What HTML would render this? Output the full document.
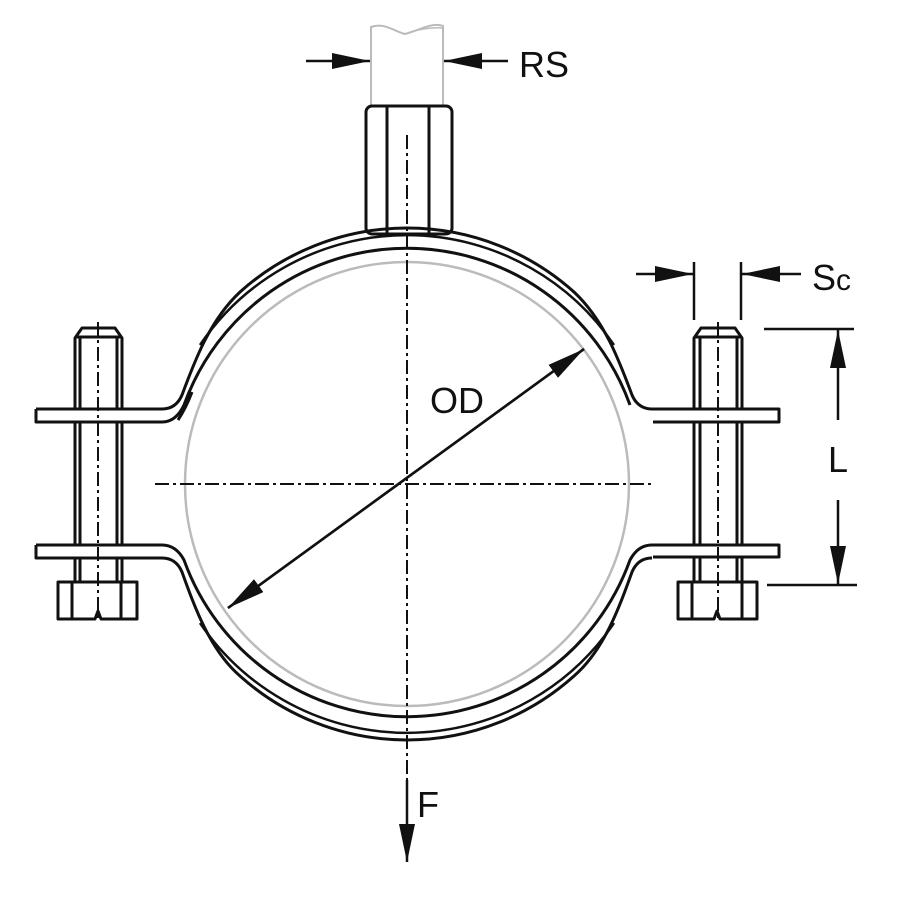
<!DOCTYPE html>
<html><head><style>body{margin:0;background:#fff}svg{display:block}</style></head><body>
<svg width="900" height="900" viewBox="0 0 900 900" xmlns="http://www.w3.org/2000/svg" font-family="'Liberation Sans',sans-serif">
<defs>
<marker id="ah" markerWidth="10" markerHeight="8" refX="10" refY="4" orient="auto" markerUnits="userSpaceOnUse" viewBox="0 0 10 8"><path d="M0,0L10,4L0,8z" fill="#111"/></marker>
<marker id="ah2" markerWidth="38" markerHeight="16" refX="38" refY="8" orient="auto" markerUnits="userSpaceOnUse" viewBox="0 0 38 16"><path d="M0,0L38,8L0,16z" fill="#111"/></marker>
</defs>
<!-- pipe -->
<circle cx="407" cy="484" r="222" fill="none" stroke="#bbb" stroke-width="2.5"/>
<!-- rod gray -->
<path d="M371,105 V27 C385,22 395,32 405,34 C420,30 432,22 443,26 V105" fill="none" stroke="#bbb" stroke-width="2"/>
<path d="M405,34 C415,30 430,27 443,28" fill="none" stroke="#bbb" stroke-width="1.5"/>
<g fill="none" stroke="#111" stroke-width="3" stroke-linejoin="round">
<!-- hex nut -->
<rect x="366" y="106" width="86" height="128" rx="6"/>
<line x1="387" y1="107" x2="387" y2="233"/>
<line x1="429" y1="107" x2="429" y2="233"/>
<!-- clamp top -->
<path d="M36,409 H162 Q176,409 182,395 C195,360 210,320 240,292 A250,250 0 0 1 574,292 C604,320 619,360 632,395 Q638,409 652,409 H779 V422 H653"/>
<path d="M36,409 V422 H162 Q176,422 184,405 A237,237 0 0 1 630,405"/>
<path d="M200,345 A250,250 0 0 1 614,345" stroke-width="2.5"/>
<path d="M178,420 Q186,408 192,392"/>
<!-- clamp bottom -->
<path d="M36,545 H162 Q176,545 184,560 A237,237 0 0 0 630,560 Q638,545 652,545 H779 V557 H653"/>
<path d="M36,545 V558 H162 Q176,558 182,572 C195,608 210,650 240,676 A250,250 0 0 0 574,676 C604,650 619,608 632,572 Q638,558 652,558"/>
<path d="M200,623 A250,250 0 0 0 614,623" stroke-width="2.5"/>
<!-- left bolt -->
<path d="M75,408 V338 L82,328 H115 L122,338 V408"/>
<line x1="76" y1="337" x2="121" y2="337"/>
<line x1="80" y1="338" x2="80" y2="408"/><line x1="117" y1="338" x2="117" y2="408"/>
<path d="M75,423 V544 M122,423 V544 M80,423 V544 M117,423 V544"/>
<path d="M75,558 V582 M122,558 V582 M80,558 V582 M117,558 V582"/>
<path d="M58,582 H137 V619 H101 L98,611 L95,619 H58 Z"/>
<line x1="72" y1="582" x2="72" y2="619"/><line x1="121" y1="582" x2="121" y2="619"/>
<!-- right bolt -->
<path d="M694,410 V338 L701,328 H735 L742,338 V410"/>
<line x1="695" y1="337" x2="741" y2="337"/>
<line x1="700" y1="338" x2="700" y2="410"/><line x1="737" y1="338" x2="737" y2="410"/>
<path d="M694,423 V544 M742,423 V544 M700,423 V544 M737,423 V544"/>
<path d="M694,558 V582 M742,558 V582 M700,558 V582 M737,558 V582"/>
<path d="M678,582 H757 V619 H720 L717,611 L714,619 H678 Z"/>
<line x1="692" y1="582" x2="692" y2="619"/><line x1="742" y1="582" x2="742" y2="619"/>
</g>
<!-- center lines -->
<g stroke="#111" stroke-width="2" stroke-dasharray="14,4,3,4" fill="none">
<line x1="407" y1="135" x2="407" y2="780"/>
<line x1="155" y1="484" x2="652" y2="484"/>
<line x1="98" y1="322" x2="98" y2="618"/>
<line x1="718" y1="322" x2="718" y2="618"/>
</g>
<!-- dimensions -->
<g stroke="#111" stroke-width="2.5" fill="none">
<line x1="306" y1="61" x2="370" y2="61" marker-end="url(#ah2)"/>
<line x1="508" y1="61" x2="444" y2="61" marker-end="url(#ah2)"/>
<line x1="694" y1="262" x2="694" y2="320"/>
<line x1="741" y1="262" x2="741" y2="320"/>
<line x1="636" y1="274" x2="693" y2="274" marker-end="url(#ah2)"/>
<line x1="801" y1="274" x2="742" y2="274" marker-end="url(#ah2)"/>
<line x1="764" y1="329" x2="854" y2="329"/>
<line x1="767" y1="585" x2="857" y2="585"/>
<line x1="838" y1="420" x2="838" y2="330" marker-end="url(#ah2)"/>
<line x1="838" y1="500" x2="838" y2="584" marker-end="url(#ah2)"/>
<line x1="228" y1="608" x2="584" y2="349" marker-end="url(#ah2)"/>
<line x1="584" y1="349" x2="228" y2="608" marker-end="url(#ah2)"/>
<line x1="407" y1="780" x2="407" y2="862" marker-end="url(#ah2)"/>
</g>
<g fill="#111" font-size="36">
<text x="519" y="77">RS</text>
<text x="812" y="290">S<tspan font-size="30">c</tspan></text>
<text x="828" y="472">L</text>
<text x="430" y="413">OD</text>
<text x="417" y="817">F</text>
</g>
</svg>
</body></html>
